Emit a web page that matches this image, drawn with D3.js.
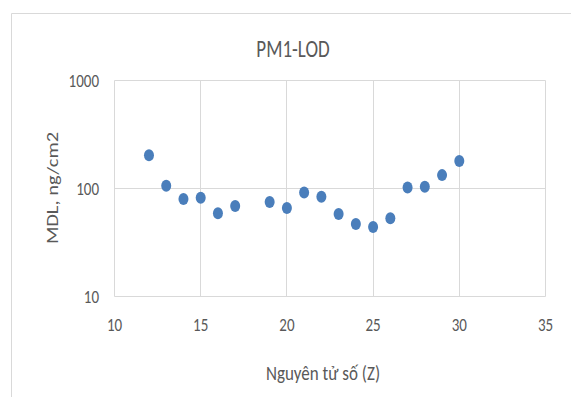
<!DOCTYPE html>
<html>
<head>
<meta charset="utf-8">
<script src="https://cdn.jsdelivr.net/npm/d3@7"></script>
<style>
  html, body { margin: 0; padding: 0; background: #fff; }
  svg { display: block; }
  text { font-family: Carlito, "Open Sans", sans-serif; fill: #595959; }
</style>
</head>
<body>
<svg id="chart" width="571" height="397"></svg>
<script>
// Atomic number (Z) of each element
const atomicNumbers = [12, 13, 14, 15, 16, 17, 19, 20, 21, 22, 23, 24, 25, 26, 27, 28, 29, 30];
// Detection limit, ng/cm2
const mdlValues = [203, 106, 80, 82, 59, 69, 75, 66, 92, 84, 58, 47, 44, 53, 102, 104, 133, 180];
const xTicks = [10, 15, 20, 25, 30, 35];
const yTicks = [10, 100, 1000];

const W = 571, H = 397;
const svg = d3.select("#chart");
const stretch = 1.25; // glyphs are drawn taller than wide

// chart area frame
svg.append("path")
  .attr("d", `M11.5,${H} V13.5 H${W}`)
  .attr("fill", "none").attr("stroke", "#d9d9d9").attr("stroke-width", 1);

const x = d3.scaleLinear().domain([10, 35]).range([114.5, 545.5]);
const y = d3.scaleLog().domain([10, 1000]).range([296.5, 80.5]);

// grid
const grid = svg.append("g").attr("stroke", "#d9d9d9").attr("stroke-width", 1);
xTicks.forEach(t => grid.append("line")
  .attr("x1", Math.round(x(t) - 0.5) + 0.5).attr("x2", Math.round(x(t) - 0.5) + 0.5)
  .attr("y1", y(1000)).attr("y2", y(10)));
yTicks.forEach(t => grid.append("line")
  .attr("x1", x(10)).attr("x2", x(35))
  .attr("y1", Math.round(y(t) - 0.5) + 0.5).attr("y2", Math.round(y(t) - 0.5) + 0.5));

// helper for stretched text
function label(px, py, str, size, anchor, rotate) {
  const g = svg.append("g")
    .attr("transform", `translate(${px},${py})` + (rotate ? " rotate(-90)" : ""));
  return g.append("text")
    .attr("transform", rotate ? `scale(${stretch * 0.96},1)` : `scale(1,${stretch})`)
    .attr("text-anchor", anchor)
    .attr("font-size", size)
    .text(str);
}

// tick labels
xTicks.forEach(t => label(x(t), 331, String(t), 15, "middle"));
const fmt = d3.format("d");
yTicks.forEach(t => label(99, y(t) + 6.5, fmt(t), 15, "end"));

// points
svg.append("g").selectAll("ellipse")
  .data(atomicNumbers.map((z, i) => ({ z, v: mdlValues[i] })))
  .join("ellipse")
  .attr("cx", d => x(d.z)).attr("cy", d => y(d.v))
  .attr("rx", 5).attr("ry", 6)
  .attr("fill", "#4a7ebb");

// titles
label(293, 57, "PM1-LOD", 19, "middle");
label(323, 380, "Nguyên tử số (Z)", 17, "middle");
label(58, 188, "MDL, ng/cm2", 17, "middle", true);
</script>
</body>
</html>
